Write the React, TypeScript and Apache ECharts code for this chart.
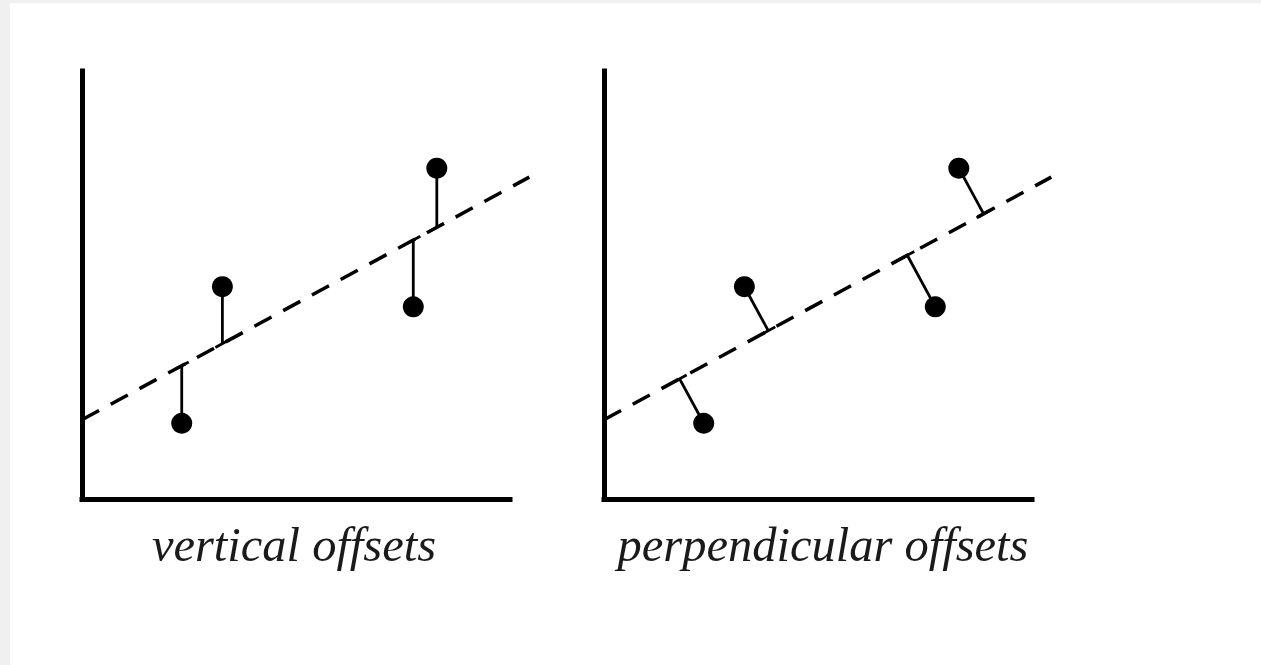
import React, { useEffect, useRef } from "react";
import * as echarts from "echarts";

// data (axis units 0..10 on both panels)
const pointX = [2.33, 3.28, 7.74, 8.29];
const pointY = [1.77, 4.96, 4.49, 7.73];
const fitLineX = [0, 10.45];
const fitLineY = [1.85, 7.52];
const panelTitles = ["vertical offsets", "perpendicular offsets"];
const offsetModes = ["vertical", "perpendicular"];
const axisMin = 0;
const axisMax = 10;

export default function App() {
  const ref = useRef<HTMLDivElement>(null);
  useEffect(() => {
    document.body.style.margin = "0";
    const chart = echarts.init(ref.current!, null, { renderer: "svg" });
    const points = pointX.map((x, i) => [x, pointY[i]]);
    const fitLine = fitLineX.map((x, i) => [x, fitLineY[i]]);
    const slope = (fitLineY[1] - fitLineY[0]) / (fitLineX[1] - fitLineX[0]);
    const lineAt = (x: number) => fitLineY[0] + (x - fitLineX[0]) * slope;

    const makeRender = (mode: string) => (params: any, api: any) => {
      const x = api.value(0);
      const y = api.value(1);
      const p = api.coord([x, y]);
      const a = api.coord(fitLine[0]);
      const b = api.coord(fitLine[1]);
      let dx = b[0] - a[0];
      let dy = b[1] - a[1];
      const len = Math.hypot(dx, dy);
      dx /= len;
      dy /= len;
      let foot: number[];
      if (mode === "vertical") {
        foot = api.coord([x, lineAt(x)]);
      } else {
        const t = (p[0] - a[0]) * dx + (p[1] - a[1]) * dy;
        foot = [a[0] + t * dx, a[1] + t * dy];
      }
      const h = 8;
      const st = { stroke: "#000", lineWidth: 2.8 };
      return {
        type: "group",
        children: [
          { type: "line", shape: { x1: p[0], y1: p[1], x2: foot[0], y2: foot[1] }, style: st },
          {
            type: "line",
            shape: { x1: foot[0] - dx * h, y1: foot[1] - dy * h, x2: foot[0] + dx * h, y2: foot[1] + dy * h },
            style: st,
          },
        ],
      };
    };

    const unitPx = 42.8;
    const frameLeft = [72, 594];
    const top = 68;
    const size = (axisMax - axisMin) * unitPx;
    const dataMaxX = fitLineX[1];
    // frame grids (visible axes), then data grids (same scale, wider so the fit line can run past the axis end)
    const grids = [
      ...frameLeft.map((l) => ({ left: l, top, width: size, height: size })),
      ...frameLeft.map((l) => ({ left: l, top, width: (dataMaxX - axisMin) * unitPx, height: size })),
    ];
    const hidden = {
      axisLine: { show: false },
      axisTick: { show: false },
      axisLabel: { show: false },
      splitLine: { show: false },
    };
    const frameAxis = {
      type: "value",
      min: axisMin,
      max: axisMax,
      ...hidden,
      axisLine: { show: true, onZero: false, lineStyle: { color: "#000", width: 5, cap: "square" } },
    };
    const xAxis = [
      { ...frameAxis, gridIndex: 0 },
      { ...frameAxis, gridIndex: 1 },
      { type: "value", min: axisMin, max: dataMaxX, gridIndex: 2, ...hidden },
      { type: "value", min: axisMin, max: dataMaxX, gridIndex: 3, ...hidden },
    ];
    const yAxis = [
      { ...frameAxis, gridIndex: 0 },
      { ...frameAxis, gridIndex: 1 },
      { type: "value", min: axisMin, max: axisMax, gridIndex: 2, ...hidden },
      { type: "value", min: axisMin, max: axisMax, gridIndex: 3, ...hidden },
    ];

    const series: any[] = [];
    offsetModes.forEach((mode, i) => {
      const gi = i + 2;
      series.push({
        type: "line",
        xAxisIndex: gi,
        yAxisIndex: gi,
        data: fitLine,
        symbol: "none",
        clip: false,
        lineStyle: { color: "#000", width: 3.5, type: [19.4, 13.3] },
        z: 2,
      });
      series.push({
        type: "custom",
        xAxisIndex: gi,
        yAxisIndex: gi,
        data: points,
        encode: { x: 0, y: 1 },
        renderItem: makeRender(mode),
        z: 3,
      });
      series.push({
        type: "scatter",
        xAxisIndex: gi,
        yAxisIndex: gi,
        data: points,
        symbol: "circle",
        symbolSize: 21,
        itemStyle: { color: "#000", opacity: 1 },
        z: 4,
      });
    });

    const titleX = [284, 813];
    chart.setOption({
      animation: false,
      backgroundColor: "#fff",
      grid: grids,
      xAxis,
      yAxis,
      series,
      graphic: panelTitles.map((t, i) => ({
        type: "text",
        x: titleX[i],
        y: 541,
        style: {
          text: t,
          fill: "#1a1a1a",
          fontFamily: "Liberation Serif",
          fontStyle: "italic",
          fontSize: 48.5,
          textAlign: "center",
          textVerticalAlign: "middle",
        },
      })),
    });
    return () => chart.dispose();
  }, []);
  return (
    <div style={{ width: 1261, height: 665, background: "#f0f0f0", position: "relative" }}>
      <div
        ref={ref}
        style={{ position: "absolute", left: 10, top: 3, width: 1251, height: 662, background: "#fff" }}
      />
    </div>
  );
}
